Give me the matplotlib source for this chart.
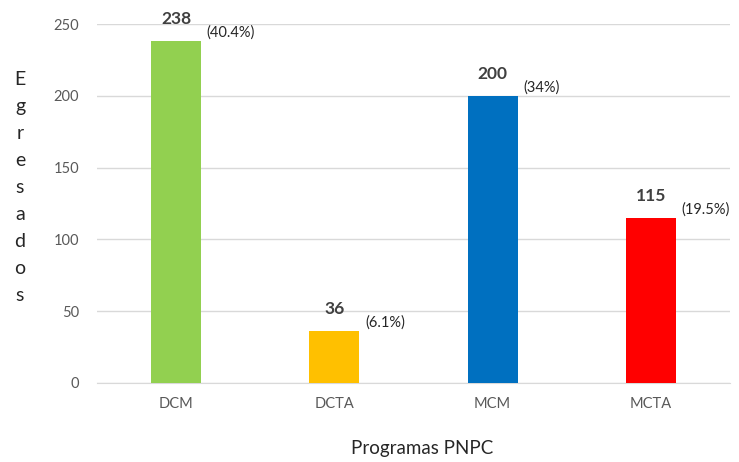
import matplotlib
matplotlib.use("Agg")
import matplotlib.pyplot as plt

categories = ["DCM", "DCTA", "MCM", "MCTA"]
values = [238, 36, 200, 115]
percents = ["(40.4%)", "(6.1%)", "(34%)", "(19.5%)"]
colors = ["#92D050", "#FFC000", "#0070C0", "#FF0000"]
yticks = [0, 50, 100, 150, 200, 250]

plt.rcParams['font.family'] = ['Lato', 'DejaVu Sans']

fig = plt.figure(figsize=(7.39, 4.62), dpi=100)
ax = fig.add_axes([0.1313, 0.171, 0.8565, 0.777])

x = list(range(len(categories)))
bw = 0.316
bars = ax.bar(x, values, width=bw, color=colors, zorder=3)

ax.set_xlim(-0.5, len(categories) - 0.5)
ax.set_ylim(0, 250)
ax.set_yticks(yticks)
ax.set_xticks(x)
ax.set_xticklabels(categories)
ax.tick_params(axis='both', length=0, colors='#595959', labelsize=10.5)
ax.tick_params(axis='x', pad=10)
ax.tick_params(axis='y', pad=13)
ax.grid(axis='y', color='#D9D9D9', linewidth=1, zorder=0)
for s in ['top', 'right', 'left']:
    ax.spines[s].set_visible(False)
ax.spines['bottom'].set_color('#D9D9D9')

for xi, v, p in zip(x, values, percents):
    ax.annotate(str(v), (xi, v), xytext=(0, 10), textcoords='offset points',
                ha='center', va='bottom', fontsize=12.5, fontweight='bold', color='#404040')
    ax.annotate(p, (xi + bw / 2, v), xytext=(4, 6), textcoords='offset points',
                ha='left', va='center', fontsize=10.5, color='#262626')

fig.text(0.027, 0.594, "\n".join("Egresados"), ha='center', va='center',
         fontsize=14, linespacing=1.72, color='#262626')
fig.text(0.571, 0.03, "Programas PNPC", ha='center', va='center',
         fontsize=13.5, color='#262626')

fig.savefig("out.png", dpi=100)
